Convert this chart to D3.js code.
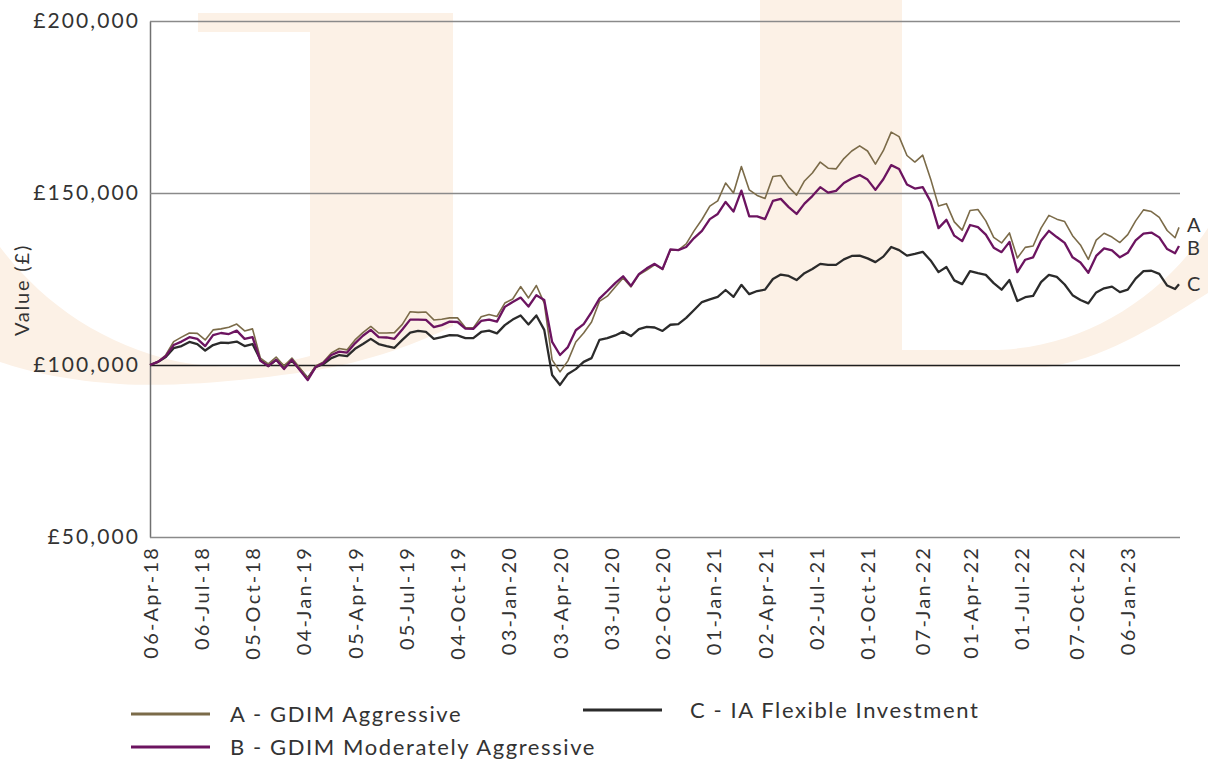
<!DOCTYPE html>
<html>
<head>
<meta charset="utf-8">
<script src="https://cdn.jsdelivr.net/npm/d3@7"></script>
<style>
  body { margin: 0; background: #fff; }
  svg text { font-family: Lato, "Open Sans", sans-serif; font-weight: 400; fill: #333; }
</style>
</head>
<body>
<div id="chart"></div>
<script>
// Data: fortnightly values (last point is one week after the one before)
const startDate = new Date(2018, 3, 6);
const endDate = new Date(2023, 3, 7);

const seriesA = [
  100000,100900,102900,106800,108100,109300,109200,107300,110200,110500,
  111000,111900,109900,110500,102000,100300,102300,99700,102000,99100,
  96200,99700,100900,103500,104800,104400,107300,109400,111200,109300,
  109300,109400,111800,115500,115300,115400,113100,113300,113700,113700,
  110900,110800,114000,114700,114100,118000,119200,122800,119500,123100,
  118000,101500,98000,101200,106700,109300,112500,118500,120000,122700,
  125300,122700,126200,127600,129100,127800,133400,133400,135200,139000,
  142300,146200,147700,152900,150000,157700,150900,149300,148400,154800,
  155100,151700,149400,153500,155800,159000,157200,157000,160000,162200,
  163700,162200,158400,162300,167700,166400,160900,159000,161000,154100,
  146200,146900,141600,139200,144900,145200,141900,137100,135500,138400,
  131100,134200,134600,139800,143500,142400,141700,137600,134900,130700,
  136300,138300,137200,135600,137900,141900,145100,144600,142900,139100,
  137000,140000
];

const seriesB = [
  100000,100900,102600,105800,106800,108100,107600,105500,108700,109300,
  109000,110000,107600,108100,101200,99700,101500,98800,101500,98500,
  95600,99400,100600,102900,103900,103600,106300,108500,110200,108100,
  108000,107600,110300,113200,113200,113100,111000,111600,112600,112500,
  110600,110500,112800,113200,112600,116900,118300,119600,117000,120300,
  118900,106700,102900,105200,110100,111900,115400,119300,121500,123800,
  125800,123000,126400,128100,129400,127900,133600,133400,134300,136900,
  139000,142400,143900,147400,144600,150700,143200,143200,142400,147700,
  148300,145900,143900,146900,149100,151700,150100,150600,152900,154200,
  155200,153900,150900,154000,158100,157000,152500,151300,151700,147500,
  139800,142200,137600,136000,140700,140100,137900,134100,132800,135800,
  127000,130600,131300,136100,139000,137200,135500,131300,129800,126800,
  131700,133900,133300,131300,132600,136200,138200,138500,137100,133700,
  132500,134600
];

const seriesC = [
  100000,100900,102300,104900,105500,106700,106100,104200,105800,106500,
  106400,106800,105500,106100,101500,99700,101500,99700,101200,98800,
  96200,99400,100300,102000,102900,102600,104700,106100,107600,106100,
  105500,105000,107300,109400,109900,109600,107600,108100,108700,108600,
  107800,107800,109600,110000,109200,111600,113200,114400,111800,114400,
  110200,97100,94200,97400,98800,100900,102000,107300,107800,108600,
  109700,108400,110400,111100,110900,109900,111700,111900,113700,116000,
  118300,119100,119800,121800,119800,123300,120600,121500,121900,125000,
  126300,125900,124700,126700,127900,129400,129100,129100,130700,131700,
  131800,131000,129900,131500,134300,133400,131800,132300,132900,130400,
  127000,128500,124600,123500,127300,126700,126200,123800,121900,124700,
  118600,119700,120100,124100,126200,125600,123400,120300,118900,117900,
  121100,122300,122800,121200,121900,125100,127300,127400,126500,123100,
  122100,123500
];

const tickLabels = ["06-Apr-18","06-Jul-18","05-Oct-18","04-Jan-19","05-Apr-19","05-Jul-19",
  "04-Oct-19","03-Jan-20","03-Apr-20","03-Jul-20","02-Oct-20","01-Jan-21","02-Apr-21",
  "02-Jul-21","01-Oct-21","07-Jan-22","01-Apr-22","01-Jul-22","07-Oct-22","06-Jan-23"];
const yTicks = [50000, 100000, 150000, 200000];
const seriesKeys = ["A", "B", "C"];
const seriesNames = ["A - GDIM Aggressive", "B - GDIM Moderately Aggressive", "C - IA Flexible Investment"];
const seriesColors = ["#7b6b49", "#6c1460", "#2b2b2b"];

// -------------------------------------------------------------------------
// Setup
// -------------------------------------------------------------------------
const W = 1208, H = 763;
const plot = { left: 150, right: 1179, top: 21, bottom: 537 };

const svg = d3.select("#chart").append("svg")
    .attr("width", W)
    .attr("height", H);

const dates = seriesA.map((d, i) => i < seriesA.length - 1 ? d3.timeDay.offset(startDate, 14 * i) : endDate);
const series = [seriesA, seriesB, seriesC].map((vals, s) => ({
    key: seriesKeys[s],
    name: seriesNames[s],
    color: seriesColors[s],
    values: vals.map((v, i) => ({ date: dates[i], value: v }))
}));

const x = d3.scaleTime().domain([startDate, endDate]).range([plot.left, plot.right]);
const y = d3.scaleLinear().domain([50000, 200000]).range([plot.bottom, plot.top]);

// -------------------------------------------------------------------------
// Background watermark
// -------------------------------------------------------------------------
const wm = svg.append("g").attr("fill", "#fcf1e6");
wm.append("rect").attr("x", 198).attr("y", 13).attr("width", 113).attr("height", 19);
wm.append("path")
    .attr("d", "M310,13 L453,13 L453,326 C420,342 370,362 310,371 C240,382 170,387 120,384 C70,381 30,372 0,362 L0,247 C40,300 100,345 180,362 C240,372 280,364 310,356 Z");
wm.append("path")
    .attr("d", "M760,0 L902,0 L902,350 L990,350 C1080,350 1160,300 1208,228 L1208,293 C1150,330 1100,360 1046,367 L760,367 Z");

// -------------------------------------------------------------------------
// Axes and grid
// -------------------------------------------------------------------------
const yAxis = svg.append("g")
    .attr("transform", `translate(${plot.left},0)`)
    .call(d3.axisLeft(y)
        .tickValues(yTicks)
        .tickSizeInner(-(plot.right - plot.left + 1))
        .tickSizeOuter(0)
        .tickPadding(10)
        .tickFormat(d => "£" + d3.format(",")(d)));

yAxis.select(".domain").attr("stroke", "#707070").attr("stroke-width", 1.5);
yAxis.selectAll(".tick line")
    .attr("stroke", d => d === 100000 ? "#1e1e1e" : "#8a8a8a")
    .attr("stroke-width", d => d === 50000 ? 1.6 : 1.3);
yAxis.selectAll(".tick text")
    .attr("font-size", 21)
    .attr("letter-spacing", "2.1px")
    .attr("fill", "#3a3a3a");

const tickDates = tickLabels.map(d3.timeParse("%d-%b-%y"));
const xAxis = svg.append("g")
    .attr("transform", `translate(0,${plot.bottom})`)
    .call(d3.axisBottom(x)
        .tickValues(tickDates)
        .tickSize(0)
        .tickFormat((d, i) => tickLabels[i]));

xAxis.select(".domain").remove();
xAxis.selectAll(".tick text")
    .attr("transform", "rotate(-90)")
    .attr("x", -9)
    .attr("y", 0)
    .attr("dy", "0.35em")
    .attr("text-anchor", "end")
    .attr("font-size", 20)
    .attr("letter-spacing", "2.2px")
    .attr("fill", "#3a3a3a");

svg.append("text")
    .attr("transform", "translate(22,290) rotate(-90)")
    .attr("text-anchor", "middle")
    .attr("dy", "0.35em")
    .attr("font-size", 20)
    .attr("letter-spacing", "1.8px")
    .attr("fill", "#555")
    .text("Value (£)");

// -------------------------------------------------------------------------
// Lines
// -------------------------------------------------------------------------
const line = d3.line()
    .x(d => x(d.date))
    .y(d => y(d.value));

// draw C first, then A, then B on top
[2, 0, 1].forEach(s => {
    svg.append("path")
        .datum(series[s].values)
        .attr("fill", "none")
        .attr("stroke", series[s].color)
        .attr("stroke-width", s === 0 ? 1.6 : 2.3)
        .attr("stroke-linejoin", "round")
        .attr("d", line);
});

// end labels, nudged apart a little where A and B sit close
const labelNudge = [-2, 2, 0];
svg.selectAll(".end-label")
    .data(series)
    .enter()
    .append("text")
    .attr("class", "end-label")
    .attr("x", x(endDate) + 8)
    .attr("y", (d, i) => y(d.values[d.values.length - 1].value) + labelNudge[i])
    .attr("dy", "0.35em")
    .attr("font-size", 20)
    .attr("fill", "#333")
    .text(d => d.key);

// -------------------------------------------------------------------------
// Legend
// -------------------------------------------------------------------------
const legendPos = [
    { x: 131, y: 714, tx: 99 },
    { x: 131, y: 747, tx: 99 },
    { x: 583, y: 710, tx: 107 }
];

series.forEach((d, i) => {
    const g = svg.append("g").attr("transform", `translate(${legendPos[i].x},${legendPos[i].y})`);
    g.append("line")
        .attr("x1", 0).attr("x2", 79)
        .attr("stroke", d.color)
        .attr("stroke-width", 3);
    g.append("text")
        .attr("x", legendPos[i].tx)
        .attr("dy", "0.35em")
        .attr("font-size", 22)
        .attr("letter-spacing", "1.6px")
        .attr("fill", "#333")
        .text(d.name);
});
</script>
</body>
</html>
